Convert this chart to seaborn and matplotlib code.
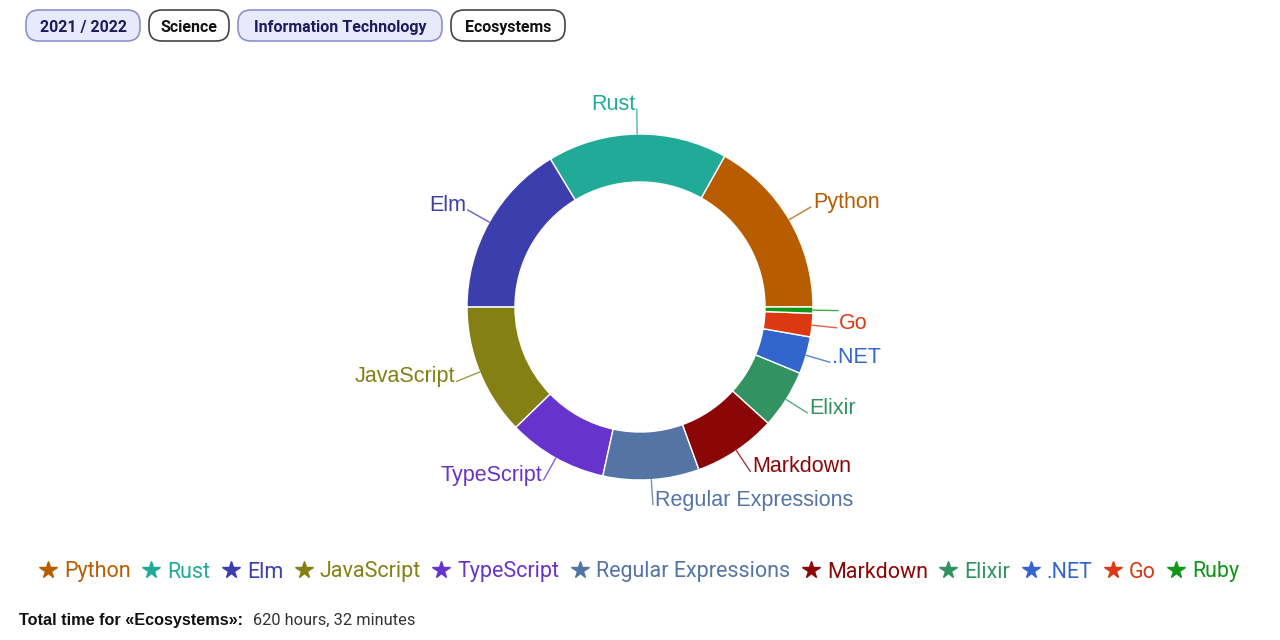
import numpy as np
import seaborn as sns
import matplotlib.pyplot as plt
from matplotlib.patches import FancyBboxPatch
from matplotlib.lines import Line2D

# data (hours per ecosystem)
languages = ['Python', 'Rust', 'Elm', 'JavaScript', 'TypeScript', 'Regular Expressions',
             'Markdown', 'Elixir', '.NET', 'Go', 'Ruby']
hours = [104.6, 104.3, 101.4, 76.0, 57.7, 55.7, 48.1, 34.0, 21.5, 13.6, 3.6]
colors = ['#b85c00', '#22aa99', '#3b3eac', '#848014', '#6633cc', '#5574a6',
          '#8b0707', '#329262', '#3366cc', '#dc3912', '#109618']
show_label = [True] * 10 + [False]

buttons = ['2021 / 2022', 'Science', 'Information Technology', 'Ecosystems']
button_active = [True, False, True, False]
total_text = '620 hours, 32 minutes'

sns.set_theme(style='white')
plt.rcParams['font.family'] = ['Roboto', 'DejaVu Sans']

W, H = 1280, 640
fig = plt.figure(figsize=(12.8, 6.4), dpi=100)
ax = fig.add_axes([0, 0, 1, 1])

def Y(y):
    return H - y

cx, cy, r, ring = 640, Y(307), 173, 48
pal = sns.color_palette(colors)
ax.pie(hours, colors=pal, startangle=0, counterclock=True, radius=r, center=(cx, cy),
       wedgeprops=dict(width=ring, edgecolor='white', linewidth=1))
ax.set_xlim(0, W)
ax.set_ylim(0, H)
ax.set_aspect('equal')
ax.axis('off')

# leader lines and labels
cum = np.cumsum([0] + hours)
total = cum[-1]
for i, name in enumerate(languages):
    mid = np.deg2rad((cum[i] + cum[i + 1]) / 2 / total * 360)
    x0, y0 = cx + r * np.cos(mid), cy + r * np.sin(mid)
    x1, y1 = cx + (r + 25) * np.cos(mid), cy + (r + 25) * np.sin(mid)
    ax.plot([x0, x1], [y0, y1], color=colors[i], lw=1, alpha=0.8)
    if show_label[i]:
        left = np.cos(mid) >= 0
        ax.text(x1 + (2 if left else -1), y1 - 1, name, color=colors[i], fontsize=15.5,
                ha='left' if left else 'right', va='baseline', family='Liberation Sans')

# top buttons
bx = [(26, 140), (149, 229), (238, 442), (451, 565)]
for (x0, x1), lab, act in zip(bx, buttons, button_active):
    box = FancyBboxPatch((x0, Y(41)), x1 - x0, 31,
                         boxstyle='round,pad=0,rounding_size=13',
                         fc='#e8eafb' if act else 'white',
                         ec='#8f90d0' if act else '#444444', lw=1.2)
    ax.add_patch(box)
    ax.text((x0 + x1) / 2, Y(26), lab, ha='center', va='center_baseline', fontsize=11.5,
            fontweight='bold', color='#1c1c5c' if act else '#111111')

# legend
handles = [Line2D([], [], ls='none', marker='*', markersize=13, color=c) for c in colors]
ax.legend(handles, languages, loc='center', bbox_to_anchor=(0.5, 1 - 572 / H), ncol=11,
          frameon=False, fontsize=15.5, handlelength=0.7, handletextpad=0.4,
          columnspacing=0.6, labelcolor=colors, borderpad=0)

# footer
ax.text(19, Y(625), 'Total time for «Ecosystems»:', fontsize=11.7, fontweight='bold',
        color='#111111', va='baseline', family='Liberation Sans')
ax.text(253, Y(625), total_text, fontsize=11.8, color='#333333', va='baseline')

fig.savefig('out.png', dpi=100)
